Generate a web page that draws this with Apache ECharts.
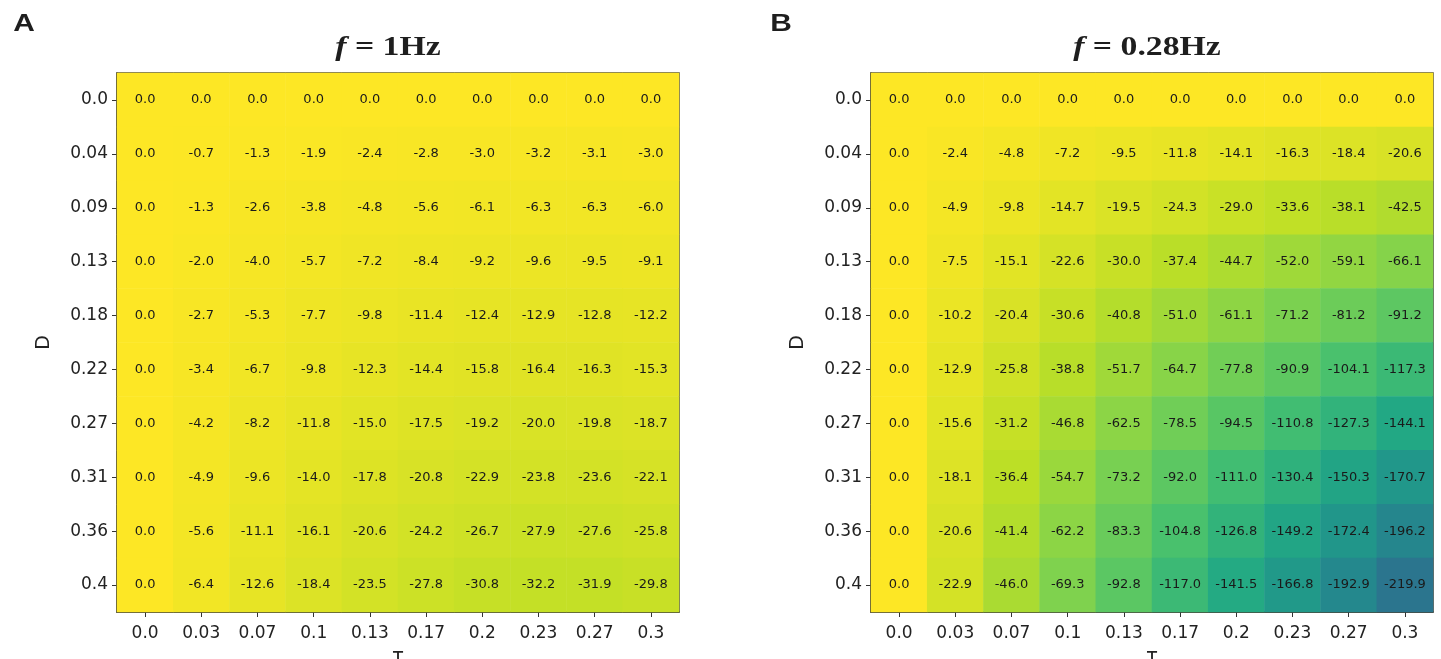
<!DOCTYPE html>
<html><head><meta charset="utf-8">
<script src="https://cdn.jsdelivr.net/npm/echarts@6/dist/echarts.min.js"></script>
<style>html,body{margin:0;padding:0;background:#fff}#c{width:1441px;height:659px}</style>
</head><body><div id="c"></div>
<script>
const tauLabels = ['0.0','0.03','0.07','0.1','0.13','0.17','0.2','0.23','0.27','0.3'];
const dLabels = ['0.0','0.04','0.09','0.13','0.18','0.22','0.27','0.31','0.36','0.4'];
const panelTitles = ['1Hz','0.28Hz'];
const panelLetters = ['A','B'];
const valuesA = [
  [0.0,0.0,0.0,0.0,0.0,0.0,0.0,0.0,0.0,0.0],
  [0.0,-0.7,-1.3,-1.9,-2.4,-2.8,-3.0,-3.2,-3.1,-3.0],
  [0.0,-1.3,-2.6,-3.8,-4.8,-5.6,-6.1,-6.3,-6.3,-6.0],
  [0.0,-2.0,-4.0,-5.7,-7.2,-8.4,-9.2,-9.6,-9.5,-9.1],
  [0.0,-2.7,-5.3,-7.7,-9.8,-11.4,-12.4,-12.9,-12.8,-12.2],
  [0.0,-3.4,-6.7,-9.8,-12.3,-14.4,-15.8,-16.4,-16.3,-15.3],
  [0.0,-4.2,-8.2,-11.8,-15.0,-17.5,-19.2,-20.0,-19.8,-18.7],
  [0.0,-4.9,-9.6,-14.0,-17.8,-20.8,-22.9,-23.8,-23.6,-22.1],
  [0.0,-5.6,-11.1,-16.1,-20.6,-24.2,-26.7,-27.9,-27.6,-25.8],
  [0.0,-6.4,-12.6,-18.4,-23.5,-27.8,-30.8,-32.2,-31.9,-29.8]
];
const valuesB = [
  [0.0,0.0,0.0,0.0,0.0,0.0,0.0,0.0,0.0,0.0],
  [0.0,-2.4,-4.8,-7.2,-9.5,-11.8,-14.1,-16.3,-18.4,-20.6],
  [0.0,-4.9,-9.8,-14.7,-19.5,-24.3,-29.0,-33.6,-38.1,-42.5],
  [0.0,-7.5,-15.1,-22.6,-30.0,-37.4,-44.7,-52.0,-59.1,-66.1],
  [0.0,-10.2,-20.4,-30.6,-40.8,-51.0,-61.1,-71.2,-81.2,-91.2],
  [0.0,-12.9,-25.8,-38.8,-51.7,-64.7,-77.8,-90.9,-104.1,-117.3],
  [0.0,-15.6,-31.2,-46.8,-62.5,-78.5,-94.5,-110.8,-127.3,-144.1],
  [0.0,-18.1,-36.4,-54.7,-73.2,-92.0,-111.0,-130.4,-150.3,-170.7],
  [0.0,-20.6,-41.4,-62.2,-83.3,-104.8,-126.8,-149.2,-172.4,-196.2],
  [0.0,-22.9,-46.0,-69.3,-92.8,-117.0,-141.5,-166.8,-192.9,-219.9]
];

function toData(m){const out=[];m.forEach((row,i)=>row.forEach((v,j)=>out.push([j,i,v])));return out;}

const viridis = ['#440154','#482475','#414487','#355f8d','#2a788e','#21918c','#22a884','#44bf70','#7ad151','#bddf26','#fde725'];

const grids = [
  {left:117, top:73, width:562, height:539},
  {left:871, top:73, width:562, height:539}
];
const titleCenters = [388, 1147];
const letterX = [24, 781];
const sans = 'DejaVu Sans';
const axisColor = '#333';

const graphics = [];
panelTitles.forEach((t,i)=>{
  graphics.push({
    type:'text', x:titleCenters[i], y:48, scaleX:1.25, scaleY:1,
    style:{
      text:'{i|f} = '+t, textAlign:'center', textVerticalAlign:'middle',
      font:'bold 27px "Liberation Serif"', fill:'#1e1e1e',
      rich:{i:{fontFamily:'Liberation Serif', fontStyle:'italic', fontWeight:'bold', fontSize:27, fill:'#1e1e1e', color:'#1e1e1e'}}
    }
  });
});
panelLetters.forEach((t,i)=>{
  graphics.push({
    type:'text', x:letterX[i], y:25, scaleX:1.3, scaleY:1,
    style:{text:t, textAlign:'center', textVerticalAlign:'middle',
      font:'bold 23px "Liberation Sans"', fill:'#1e1e1e'}
  });
});

const option = {
  backgroundColor:'#fff',
  animation:false,
  graphic: graphics,
  grid: grids.map(g=>Object.assign({show:true, borderColor:'#3c3c30', borderWidth:1.5, backgroundColor:'transparent', containLabel:false, outerBoundsMode:'none'}, g)),
  xAxis: [0,1].map(i=>({
    type:'category', gridIndex:i, data:tauLabels, position:'bottom',
    name:'τ', nameLocation:'middle', nameGap:32,
    nameTextStyle:{fontFamily:sans, fontSize:20, color:'#222'},
    axisLine:{show:true, lineStyle:{color:'#3c3c30', width:1.5}},
    axisTick:{show:true, alignWithLabel:true, length:5, lineStyle:{color:axisColor}},
    axisLabel:{fontFamily:sans, fontSize:17, color:'#222', margin:13},
    splitLine:{show:false}, splitArea:{show:false}
  })),
  yAxis: [0,1].map(i=>({
    type:'category', gridIndex:i, data:dLabels, inverse:true,
    name:'D', nameLocation:'middle', nameGap:63, nameRotate:90,
    nameTextStyle:{fontFamily:sans, fontSize:19, color:'#222'},
    axisLine:{show:true, lineStyle:{color:'#3c3c30', width:1.5}},
    axisTick:{show:true, alignWithLabel:true, length:5, lineStyle:{color:axisColor}},
    axisLabel:{fontFamily:sans, fontSize:17, color:'#222', margin:9},
    splitLine:{show:false}, splitArea:{show:false}
  })),
  visualMap:{
    show:false, type:'continuous', min:-360, max:0, seriesIndex:[0,1], dimension:2,
    inRange:{color:viridis}
  },
  series:[valuesA, valuesB].map((m,i)=>({
    type:'heatmap', xAxisIndex:i, yAxisIndex:i, data:toData(m),
    label:{show:true, fontFamily:sans, fontSize:13, color:'#1a1a1a',
      formatter:p=>p.value[2].toFixed(1)},
    itemStyle:{borderWidth:0},
    emphasis:{disabled:true}
  }))
};
const chart = echarts.init(document.getElementById('c'), null, {renderer:'canvas'});
chart.setOption(option);
</script></body></html>
